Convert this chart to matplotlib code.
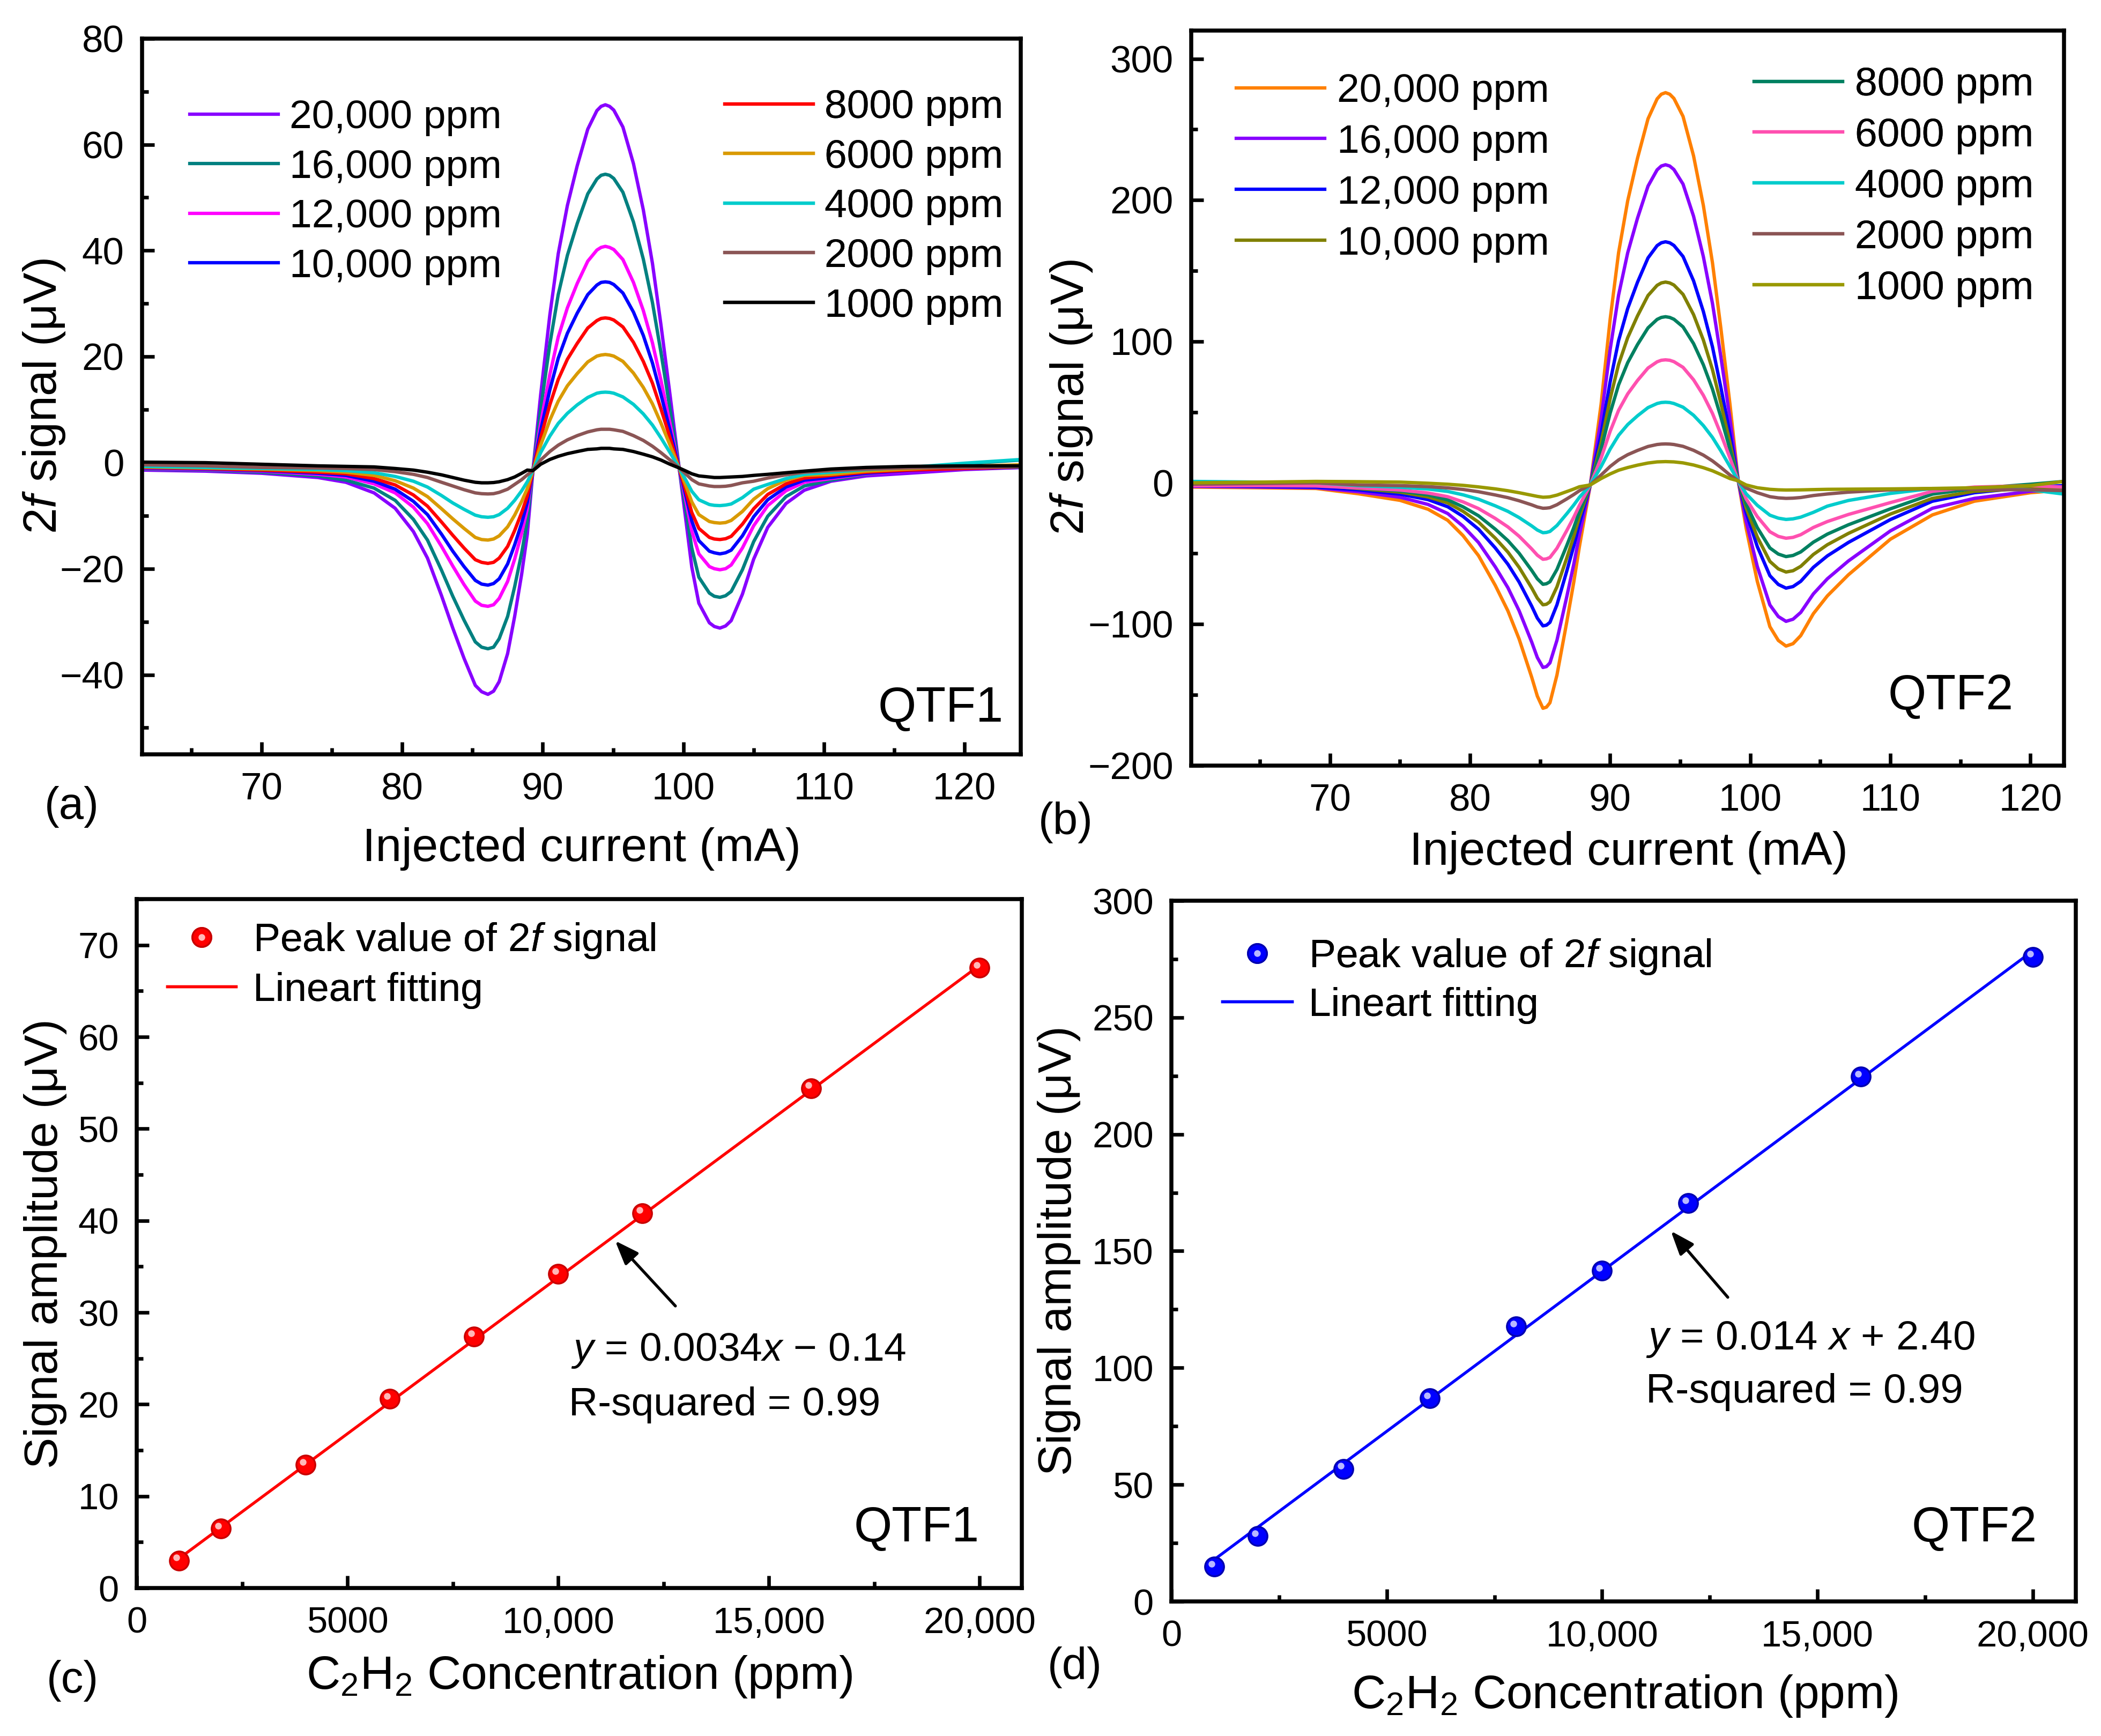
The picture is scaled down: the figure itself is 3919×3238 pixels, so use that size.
import matplotlib.pyplot as plt
from matplotlib import transforms
from matplotlib.ticker import MultipleLocator, FuncFormatter

plt.rcParams['font.family'] = ['Liberation Sans', 'DejaVu Sans']
plt.rcParams['mathtext.fontset'] = 'custom'
plt.rcParams['mathtext.rm'] = 'Liberation Sans'
plt.rcParams['mathtext.it'] = 'Liberation Sans:italic'

# ---- (a) QTF1 2f signals ----
current_a = [61.5, 66, 70, 74, 76, 78, 79.5, 80.8, 81.8, 82.8, 83.6, 84.4, 85.2, 85.65, 86.1, 86.5,
             86.9, 87.5, 88.0, 88.5, 88.9, 89.3, 89.85, 90.5, 91.1, 91.75, 92.45, 93.2, 93.85, 94.15,
             94.45, 94.75, 95.05, 95.7, 96.45, 97.15, 97.8, 98.4, 99.05, 99.7, 100.2, 100.6, 101.1,
             101.85, 102.2, 102.6, 103.0, 103.4, 104.2, 105.0, 106.0, 107.3, 108.6, 110.5, 113, 116,
             120, 124.0]
qtf1_20000 = [-1.4, -1.6, -2.0, -2.8, -3.7, -5.7, -8.6, -13.0, -18.0, -25.1, -31.2, -36.9, -42.0, -43.2,
              -43.7, -43.1, -41.3, -36.0, -29.0, -21.0, -13.5, -1.5, 12.8, 27.8, 39.4, 48.5, 56.0, 62.9,
              66.4, 67.2, 67.5, 67.2, 66.5, 63.3, 56.4, 47.7, 37.6, 26.1, 12.8, -1.0, -11.3, -19.7,
              -26.5, -30.2, -30.9, -31.2, -30.8, -29.8, -24.8, -18.2, -12.2, -7.7, -5.2, -3.5, -2.5,
              -2.0, -1.3, -0.9]
qtf1_16000 = [-1.2, -1.4, -1.8, -2.5, -3.3, -4.8, -7.1, -10.7, -14.6, -20.3, -25.2, -29.7, -33.8, -34.8,
              -35.1, -34.8, -33.2, -29.0, -23.4, -17.0, -11.0, -1.5, 10.1, 22.3, 31.7, 39.1, 45.1, 50.7,
              53.5, 54.2, 54.4, 54.2, 53.6, 51.0, 45.4, 38.4, 30.2, 20.9, 10.1, -1.0, -9.3, -16.1,
              -21.6, -24.6, -25.2, -25.4, -25.1, -24.3, -20.2, -14.9, -10.1, -6.4, -4.4, -3.3, -2.2,
              -1.4, -0.2, 0.5]
qtf1_12000 = [-1.1, -1.3, -1.6, -2.2, -2.7, -4.0, -5.7, -8.4, -11.5, -15.8, -19.5, -23.0, -26.1, -26.9,
              -27.1, -26.8, -25.6, -22.4, -18.2, -13.3, -8.7, -1.5, 7.4, 16.6, 23.7, 29.2, 33.8, 38.0,
              40.1, 40.6, 40.8, 40.6, 40.2, 38.3, 34.0, 28.7, 22.6, 15.6, 7.4, -1.0, -7.5, -12.9,
              -17.2, -19.6, -20.0, -20.2, -20.0, -19.3, -16.1, -11.9, -8.1, -5.3, -3.7, -3.0, -2.1,
              -1.6, -1.1, -0.9]
qtf1_10000 = [-1.0, -1.2, -1.5, -2.0, -2.4, -3.5, -5.0, -7.3, -9.8, -13.5, -16.7, -19.6, -22.2, -22.9,
              -23.1, -22.8, -21.9, -19.1, -15.5, -11.4, -7.5, -1.5, 6.1, 13.7, 19.7, 24.4, 28.2, 31.7,
              33.5, 34.0, 34.1, 34.0, 33.6, 32.0, 28.4, 24.0, 18.8, 12.9, 6.1, -1.0, -6.5, -11.0,
              -14.7, -16.7, -17.0, -17.2, -17.0, -16.5, -13.8, -10.2, -7.0, -4.6, -3.3, -2.8, -2.0,
              -1.5, -1.1, -0.9]
qtf1_8000 = [-0.9, -1.1, -1.4, -1.8, -2.1, -3.0, -4.2, -6.1, -8.2, -11.2, -13.7, -16.1, -18.3, -18.8,
             -19.0, -18.8, -18.0, -15.8, -12.8, -9.4, -6.3, -1.5, 4.7, 10.9, 15.7, 19.5, 22.5, 25.4,
             26.8, 27.2, 27.3, 27.2, 26.9, 25.6, 22.7, 19.1, 15.0, 10.2, 4.7, -1.0, -5.6, -9.4,
             -12.4, -14.1, -14.4, -14.5, -14.35, -13.9, -11.6, -8.7, -6.0, -4.0, -2.9, -2.4, -1.8,
             -1.4, -1.1, -0.8]
qtf1_6000 = [-0.8, -1.0, -1.2, -1.5, -1.8, -2.4, -3.4, -4.8, -6.4, -8.7, -10.6, -12.4, -14.1, -14.5,
             -14.6, -14.4, -13.8, -12.1, -9.9, -7.3, -4.9, -1.5, 3.3, 8.0, 11.6, 14.5, 16.8, 19.0,
             20.1, 20.3, 20.4, 20.3, 20.1, 19.1, 16.9, 14.2, 11.1, 7.5, 3.3, -1.0, -4.5, -7.4,
             -9.8, -11.1, -11.3, -11.4, -11.3, -10.9, -9.2, -6.9, -4.9, -3.3, -2.4, -2.2, -1.6,
             -1.2, -0.7, -0.4]
qtf1_4000 = [-0.7, -0.9, -1.1, -1.3, -1.5, -1.9, -2.6, -3.5, -4.6, -6.2, -7.6, -8.8, -9.9, -10.2,
             -10.3, -10.2, -9.8, -8.6, -7.1, -5.3, -3.6, -1.5, 1.9, 5.0, 7.4, 9.3, 10.9, 12.3,
             13.1, 13.25, 13.3, 13.25, 13.1, 12.4, 11.0, 9.2, 7.1, 4.7, 1.9, -1.0, -3.4, -5.4,
             -7.0, -7.9, -8.05, -8.1, -8.0, -7.8, -6.6, -5.0, -4.1, -3.0, -2.2, -1.8, -1.3,
             -0.9, -0.1, 0.6]
qtf1_2000 = [-0.4, -0.6, -0.9, -1.0, -1.1, -1.3, -1.7, -2.2, -2.8, -3.7, -4.4, -5.1, -5.7, -5.85,
             -5.9, -5.85, -5.6, -5.0, -4.1, -3.2, -2.3, -1.5, 0.5, 2.1, 3.3, 4.3, 5.1, 5.8,
             6.2, 6.3, 6.3, 6.3, 6.2, 5.9, 5.1, 4.2, 3.1, 1.9, 0.5, -1.0, -2.2, -3.2,
             -4.0, -4.4, -4.5, -4.5, -4.45, -4.3, -3.8, -3.5, -2.9, -2.3, -1.8, -1.5, -1.2,
             -1.0, -0.9, -0.8]
qtf1_1000 = [0.1, 0.0, -0.3, -0.6, -0.7, -0.8, -1.1, -1.4, -1.8, -2.3, -2.8, -3.3, -3.7, -3.8,
             -3.8, -3.75, -3.6, -3.2, -2.7, -2.0, -1.4, -1.5, -0.3, 0.6, 1.2, 1.7, 2.1, 2.5,
             2.6, 2.7, 2.7, 2.7, 2.6, 2.5, 2.1, 1.6, 1.1, 0.5, -0.3, -1.0, -1.6, -2.1,
             -2.5, -2.7, -2.8, -2.8, -2.75, -2.7, -2.6, -2.4, -2.2, -1.9, -1.6, -1.2, -0.9,
             -0.7, -0.6, -0.6]

# ---- (b) QTF2 2f signals ----
current_b = [60.1, 65, 69, 72, 75, 77, 78.4, 79.5, 80.6, 81.8, 82.7, 83.5, 84.4, 84.8, 85.2, 85.45,
             85.7, 86.2, 86.9, 87.4, 87.8, 88.58, 89.35, 90.0, 90.6, 91.25, 91.95, 92.7, 93.35, 93.65,
             93.95, 94.25, 94.55, 95.2, 95.95, 96.65, 97.3, 97.9, 98.55, 99.14, 99.7, 100.5, 101.4,
             102.0, 102.55, 103.05, 103.6, 104.5, 105.5, 107, 110, 113, 116, 120, 122.4]
qtf2_20000 = [-3, -3.5, -4, -7.7, -12.4, -18.7, -26.5, -37.4, -51.5, -72.6, -90.6, -110.5, -137.6, -150.9,
              -159.5, -158.7, -155.6, -136.0, -98.5, -70.3, -45.3, -1.5, 55.5, 115.9, 162.8, 199.5,
              229.6, 257.5, 271.6, 274.9, 276, 274.9, 271.9, 259.2, 231.3, 196.2, 155.7, 109.3, 55.5,
              1.4, -31.9, -69.7, -101.8, -111.5, -115.5, -113.8, -108.1, -92.6, -80.0, -65.1, -39.9,
              -22.7, -13, -7, -5]
qtf2_16000 = [-2.5, -3, -3.5, -6.3, -10.2, -15.3, -21.7, -30.7, -42.2, -59.5, -74.2, -90.5, -112.7, -123.6,
              -130.6, -130.0, -127.4, -111.4, -80.6, -57.6, -37.1, -1.5, 45.2, 94.5, 132.8, 162.7,
              187.2, 209.9, 221.4, 224.1, 225, 224.1, 221.6, 211.3, 188.6, 160.0, 126.9, 89.1, 45.2,
              1.4, -27.2, -59.2, -86.4, -94.6, -98.0, -96.5, -91.7, -78.6, -67.9, -55.3, -34.0,
              -18, -11, -6, -4.5]
qtf2_12000 = [-2, -2.5, -3, -5.0, -8.0, -11.9, -16.9, -23.8, -32.8, -46.1, -57.6, -70.2, -87.3, -95.7,
              -101.2, -100.7, -98.7, -86.3, -62.5, -44.7, -28.8, -1.5, 34.3, 71.6, 100.6, 123.3,
              141.9, 159.1, 167.8, 169.8, 170.5, 169.8, 167.9, 160.1, 142.9, 121.2, 96.2, 67.5, 34.3,
              1.4, -20.8, -45.1, -65.7, -71.9, -74.5, -73.4, -69.7, -59.8, -51.7, -42.2, -26.0,
              -13, -7, -3, -2]
qtf2_10000 = [-1, -1, -1.5, -4.0, -6.6, -10.0, -14.2, -20.2, -27.8, -39.2, -49.0, -59.8, -74.4, -81.6,
              -86.3, -85.9, -84.2, -73.6, -53.2, -38.0, -24.4, -1.5, 28.5, 59.6, 83.8, 102.7,
              118.1, 132.5, 139.7, 141.4, 142, 141.4, 139.9, 133.3, 119.0, 101.0, 80.1, 56.2, 28.5,
              1.4, -17.8, -38.3, -55.6, -60.9, -63.1, -62.2, -59.1, -50.7, -43.8, -35.8, -22.1,
              -11, -6, -4, -3]
qtf2_8000 = [-1, -1, -1.2, -3.6, -5.7, -8.5, -12.0, -17.0, -23.3, -32.8, -40.9, -49.8, -62.0, -67.9,
             -71.8, -71.4, -70.0, -61.3, -44.4, -31.7, -20.5, -1.5, 23.6, 49.4, 69.3, 85.0,
             97.8, 109.6, 115.6, 117.0, 117.5, 117.0, 115.7, 110.3, 98.5, 83.5, 66.3, 46.5, 23.6,
             1.4, -14.8, -31.7, -46.1, -50.4, -52.2, -51.4, -48.9, -42.0, -36.3, -29.7, -18.4,
             -8, -4, -1, 1]
qtf2_6000 = [-2, -2, -2.2, -3.6, -5.1, -7.2, -9.8, -13.5, -18.2, -25.2, -31.2, -37.8, -46.8, -51.2,
             -54.1, -53.8, -52.8, -46.3, -33.8, -24.4, -16.1, -1.5, 17.5, 36.5, 51.3, 62.9,
             72.4, 81.2, 85.6, 86.7, 87, 86.7, 85.7, 81.7, 72.9, 61.9, 49.1, 34.5, 17.5,
             1.4, -11.3, -23.9, -34.6, -37.9, -39.2, -38.6, -36.7, -31.6, -27.4, -22.4, -14.0,
             -6, -3, -2, -3]
qtf2_4000 = [1, 0.5, 0, -2.0, -3.1, -4.4, -6.1, -8.5, -11.6, -16.3, -20.2, -24.6, -30.5, -33.4,
             -35.3, -35.1, -34.4, -30.2, -21.9, -15.7, -10.3, -1.5, 11.5, 23.9, 33.6, 41.2,
             47.4, 53.2, 56.1, 56.8, 57, 56.8, 56.1, 53.5, 47.8, 40.5, 32.1, 22.6, 11.5,
             1.4, -7.7, -15.9, -22.9, -25.0, -25.9, -25.5, -24.3, -20.9, -16.5, -12.5, -7.5,
             -4, -4, -5, -8]
qtf2_2000 = [-1, -0.5, 0, -1.5, -2.0, -2.7, -3.6, -4.7, -6.3, -8.6, -10.5, -12.7, -15.6, -17.1,
             -18.0, -17.9, -17.6, -15.5, -11.4, -8.3, -5.6, -1.5, 5.5, 11.6, 16.2, 19.9,
             22.9, 25.7, 27.1, 27.4, 27.5, 27.4, 27.1, 25.8, 23.0, 19.6, 15.5, 10.9, 5.5,
             1.4, -3.7, -7.0, -9.8, -10.65, -11.0, -10.85, -10.4, -9.0, -7.9, -6.6, -5.0,
             -4, -4.5, -5, -5.5]
qtf2_1000 = [0, 0.5, 1, 0.8, 0.5, -0.3, -1.0, -1.8, -2.9, -4.3, -5.6, -7.0, -8.8, -9.6,
             -10.2, -10.1, -9.9, -8.7, -6.2, -4.4, -2.8, -1.5, 3.0, 6.3, 8.9, 10.8,
             12.5, 14.0, 14.8, 14.9, 15, 14.9, 14.8, 14.1, 12.6, 10.7, 8.5, 5.9, 3.0,
             1.4, -1.5, -3.5, -4.6, -4.95, -5.1, -5.05, -5.0, -4.8, -4.6, -4.5, -4.3,
             -4, -3.5, -2, 1]

ppm_labels = ['20,000 ppm', '16,000 ppm', '12,000 ppm', '10,000 ppm',
              '8000 ppm', '6000 ppm', '4000 ppm', '2000 ppm', '1000 ppm']
colors_a = ['#8800FF', '#008080', '#FF00FF', '#0000FF', '#FF0000',
            '#D99A00', '#00CCCC', '#8B5555', '#000000']
colors_b = ['#FF8000', '#8800FF', '#0000FF', '#808000', '#008060',
            '#FF50B0', '#00CCCC', '#8B5555', '#999900']

# ---- (c), (d) peak amplitude vs concentration ----
conc = [1000, 2000, 4000, 6000, 8000, 10000, 12000, 16000, 20000]
peak_qtf1 = [3.0, 6.45, 13.4, 20.6, 27.4, 34.2, 40.8, 54.4, 67.5]
peak_qtf2 = [14.9, 27.9, 56.8, 86.9, 117.7, 141.6, 170.5, 224.7, 275.9]
fit_x = [1000, 20000]
fit_qtf1 = [3.2, 67.8]
fit_qtf2 = [18.0, 278.5]

W, H = 3919, 3238
fig = plt.figure(figsize=(13.064, 10.794), dpi=300)


def rect(l, t, r, b):
    return [l / W, 1 - b / H, (r - l) / W, (b - t) / H]


def style(ax, xmaj, xmin, ymaj, ymin, fs):
    ax.xaxis.set_major_locator(MultipleLocator(xmaj))
    ax.xaxis.set_minor_locator(MultipleLocator(xmin))
    ax.yaxis.set_major_locator(MultipleLocator(ymaj))
    ax.yaxis.set_minor_locator(MultipleLocator(ymin))
    ax.tick_params(which='both', direction='in', top=False, right=False, width=1.6, labelsize=fs, pad=8)
    ax.tick_params(which='major', length=5.5)
    ax.tick_params(which='minor', length=2.8)
    for s in ax.spines.values():
        s.set_linewidth(1.8)


def legend_at(ax, handles, labels, x, y, fs, hl, htp, ls):
    leg = ax.legend(handles, labels, loc='upper left', bbox_to_anchor=(x / W, 1 - y / H),
                    bbox_transform=fig.transFigure, frameon=False, fontsize=fs, handlelength=hl,
                    handletextpad=htp, labelspacing=ls, borderpad=0, borderaxespad=0)
    ax.add_artist(leg)
    return leg


def thousands(v, pos):
    return f'{int(v):,}' if v >= 10000 else f'{int(v)}'


# ---------- (a) ----------
ax_a = fig.add_axes(rect(265, 72, 1904, 1407))
series_a = [qtf1_20000, qtf1_16000, qtf1_12000, qtf1_10000, qtf1_8000,
            qtf1_6000, qtf1_4000, qtf1_2000, qtf1_1000]
lines_a = [ax_a.plot(current_a, y, color=c, lw=1.5)[0] for y, c in zip(series_a, colors_a)]
ax_a.set_xlim(61.5, 124.0)
ax_a.set_ylim(-55, 80)
style(ax_a, 10, 5, 20, 10, 17)
ax_a.set_xlabel('Injected current (mA)', fontsize=21)
ax_a.set_ylabel('2$f$ signal (μV)', fontsize=21)
ax_a.xaxis.set_label_coords(0.5, -0.102)
ax_a.yaxis.set_label_coords(-0.0854, 0.5)
legend_at(ax_a, lines_a[:4], ppm_labels[:4], 354, 185, 18, 2.2, 0.28, 0.315)
legend_at(ax_a, lines_a[4:], ppm_labels[4:], 1352, 166, 18, 2.2, 0.28, 0.315)
ax_a.text(0.98, 0.046, 'QTF1', transform=ax_a.transAxes, ha='right', va='baseline', fontsize=22)

# ---------- (b) ----------
ax_b = fig.add_axes(rect(2222, 57, 3850, 1428))
series_b = [qtf2_20000, qtf2_16000, qtf2_12000, qtf2_10000, qtf2_8000,
            qtf2_6000, qtf2_4000, qtf2_2000, qtf2_1000]
lines_b = [ax_b.plot(current_b, y, color=c, lw=1.5)[0] for y, c in zip(series_b, colors_b)]
ax_b.set_xlim(60.1, 122.4)
ax_b.set_ylim(-200, 320)
style(ax_b, 10, 5, 100, 50, 17)
ax_b.set_xlabel('Injected current (mA)', fontsize=21)
ax_b.set_ylabel('2$f$ signal (μV)', fontsize=21)
ax_b.xaxis.set_label_coords(0.501, -0.089)
ax_b.yaxis.set_label_coords(-0.111, 0.501)
legend_at(ax_b, lines_b[:4], ppm_labels[:4], 2306, 136, 18, 2.2, 0.3, 0.345)
legend_at(ax_b, lines_b[4:], ppm_labels[4:], 3272, 124, 18, 2.2, 0.3, 0.345)
ax_b.text(0.942, 0.077, 'QTF2', transform=ax_b.transAxes, ha='right', va='baseline', fontsize=22)


# ---------- (c), (d) ----------
def linear_panel(ax, peaks, fit, col, edge, hi, ylim, ymaj, ymin, tag, tagpos,
                 eq, eqpos, rpos, eq_fs, arrow_tail, arrow_head, leg_xy, hl, htp, ls):
    fit_line, = ax.plot(fit_x, fit, color=col, lw=1.3, zorder=2)
    dots, = ax.plot(conc, peaks, ls='none', marker='o', ms=8.5, mfc=col, mec=edge, mew=0.8, zorder=3)
    shine = transforms.offset_copy(ax.transData, fig=fig, x=-1.2, y=1.3, units='points')
    glint, = ax.plot(conc, peaks, ls='none', marker='o', ms=3, mfc=hi, mec='none', zorder=4,
                     transform=shine)
    ax.set_xlim(0, 21000)
    ax.set_ylim(*ylim)
    style(ax, 5000, 2500, ymaj, ymin, 16.5)
    ax.xaxis.set_major_formatter(FuncFormatter(thousands))
    ax.set_xlabel('C$_2$H$_2$ Concentration (ppm)', fontsize=21)
    ax.set_ylabel('Signal amplitude (μV)', fontsize=21)
    ax.text(tagpos[0], tagpos[1], tag, transform=ax.transAxes, ha='right', va='baseline', fontsize=22)
    ax.text(eqpos[0], eqpos[1], eq, transform=ax.transAxes, ha='left', va='baseline', fontsize=eq_fs)
    ax.text(rpos[0], rpos[1], 'R-squared = 0.99', transform=ax.transAxes, ha='left', va='baseline',
            fontsize=eq_fs)
    ax.annotate('', xy=arrow_head, xytext=arrow_tail,
                arrowprops=dict(arrowstyle='-|>,head_length=0.45,head_width=0.17', color='black',
                                lw=1.3, shrinkA=0, shrinkB=0, mutation_scale=20))
    legend_at(ax, [(dots, glint), fit_line], ['Peak value of 2$f$ signal', 'Lineart fitting'],
              leg_xy[0], leg_xy[1], 18, hl, htp, ls)


ax_c = fig.add_axes(rect(255, 1677, 1906, 2962))
linear_panel(ax_c, peak_qtf1, fit_qtf1, '#FF0000', '#C80000', '#FFB8B8', (0, 75), 10, 5,
             'QTF1', (0.952, 0.068), '$y$ = 0.0034$x$ − 0.14', (0.4906, 0.330), (0.488, 0.2506), 18,
             (12780, 30.7), (11350, 37.8), (312, 1718), 1.7, 0.43, 0.29)
ax_c.xaxis.set_label_coords(0.5, -0.0957)
ax_c.yaxis.set_label_coords(-0.0787, 0.5)

ax_d = fig.add_axes(rect(2185, 1680, 3872, 2987))
linear_panel(ax_d, peak_qtf2, fit_qtf2, '#0000FF', '#0000B0', '#B8B8FF', (0, 300), 50, 25,
             'QTF2', (0.957, 0.086), '$y$ = 0.014 $x$ + 2.40', (0.5246, 0.360), (0.5246, 0.284), 18.3,
             (12918, 130.2), (11595, 158.6), (2280, 1748), 1.73, 0.41, 0.26)
ax_d.xaxis.set_label_coords(0.501, -0.1025)
ax_d.yaxis.set_label_coords(-0.100, 0.501)

# panel letters
for s, x, y in [('(a)', 134, 1505), ('(b)', 1988, 1534), ('(c)', 135, 3135), ('(d)', 2005, 3110)]:
    fig.text(x / W, 1 - y / H, s, ha='center', va='center', fontsize=20)

fig.savefig('out.png', dpi=300)
